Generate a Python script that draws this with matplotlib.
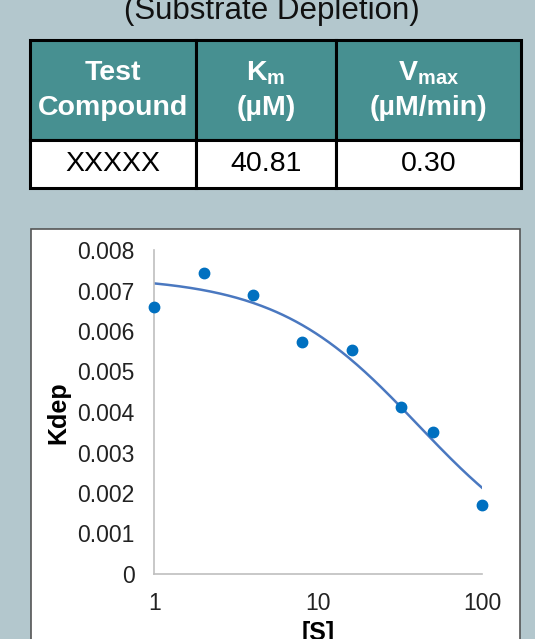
import matplotlib
matplotlib.use("Agg")
import matplotlib.pyplot as plt
import numpy as np
from matplotlib.patches import Rectangle

plt.rcParams['font.family'] = ['Liberation Sans', 'DejaVu Sans']
plt.rcParams['mathtext.fontset'] = 'custom'
plt.rcParams['mathtext.rm'] = 'Liberation Sans'
plt.rcParams['mathtext.bf'] = 'Liberation Sans:bold'

# ---- data ----
title = "(Substrate Depletion)"
header_line1 = ["Test", r"$\mathbf{K}_{\mathbf{m}}$", r"$\mathbf{V}_{\mathbf{max}}$"]
header_line2 = ["Compound", "(µM)", "(µM/min)"]
row_values = ["XXXXX", "40.81", "0.30"]
km = 40.81
vmax = 0.30

conc = [1, 2, 4, 8, 16, 32, 50, 100]
kdep = [0.0066, 0.00742, 0.00688, 0.00572, 0.00553, 0.00412, 0.00351, 0.00170]
yticks = [0, 0.001, 0.002, 0.003, 0.004, 0.005, 0.006, 0.007, 0.008]
ytick_labels = ["0", "0.001", "0.002", "0.003", "0.004", "0.005", "0.006", "0.007", "0.008"]
xticks = [1, 10, 100]
xtick_labels = ["1", "10", "100"]

W, H = 535, 639
BG = "#b3c7cd"
TEAL = "#479091"

fig = plt.figure(figsize=(W / 100, H / 100), dpi=100)
fig.patch.set_facecolor(BG)

# background axes in pixel coordinates
bg = fig.add_axes([0, 0, 1, 1])
bg.set_xlim(0, W)
bg.set_ylim(H, 0)
bg.axis('off')

bg.text(W / 2 + 4, 19, title, ha='center', va='baseline', fontsize=22.5, color='#111111')

# table
col_x = [30, 196, 336, 521]
top, mid, bot = 40, 140, 188
for i in range(3):
    x0, x1 = col_x[i], col_x[i + 1]
    bg.add_patch(Rectangle((x0, top), x1 - x0, mid - top, facecolor=TEAL,
                           edgecolor='black', linewidth=2.2))
    bg.add_patch(Rectangle((x0, mid), x1 - x0, bot - mid, facecolor='white',
                           edgecolor='black', linewidth=2.2))
    cx = (x0 + x1) / 2
    bg.text(cx, 73, header_line1[i], ha='center', va='center', fontsize=20.5,
            fontweight='bold', color='white')
    bg.text(cx, 108, header_line2[i], ha='center', va='center', fontsize=20.5,
            fontweight='bold', color='white')
    bg.text(cx, 164, row_values[i], ha='center', va='center', fontsize=20.5,
            color='black')

# chart panel
bg.add_patch(Rectangle((31, 229), 489, 420, facecolor='white',
                       edgecolor='#555555', linewidth=1.2))

# chart axes
left_px, right_px, top_px, bottom_px = 154.3, 482, 250, 574
ax = fig.add_axes([left_px / W, 1 - bottom_px / H,
                   (right_px - left_px) / W, (bottom_px - top_px) / H])
ax.set_facecolor('none')
ax.set_xscale('log')
ax.set_xlim(1, 100)
ax.set_ylim(0, 0.008)

s_fit = np.logspace(0, 2, 200)
ax.plot(s_fit, vmax / (km + s_fit), color='#4a78c0', linewidth=1.8, zorder=2)
ax.plot(conc, kdep, 'o', color='#0070c0', markersize=7.5, clip_on=False, zorder=3)

ax.set_yticks(yticks)
ax.set_yticklabels(ytick_labels)
ax.set_xticks(xticks)
ax.set_xticklabels(xtick_labels)
ax.minorticks_off()
ax.tick_params(axis='both', length=0, labelsize=16.5, labelcolor='#222222')
ax.tick_params(axis='y', pad=14)
ax.tick_params(axis='x', pad=13)
for s in ['top', 'right']:
    ax.spines[s].set_visible(False)
for s in ['left', 'bottom']:
    ax.spines[s].set_color('#bfbfbf')
    ax.spines[s].set_linewidth(1.2)

bg.text(58, 413, "Kdep", rotation=90, ha='center', va='center', fontsize=18,
        fontweight='bold', color='black')
bg.text(318, 645, "[S]", ha='center', va='bottom', fontsize=18,
        fontweight='bold', color='black')

fig.savefig("out.png", dpi=100, facecolor=BG)
